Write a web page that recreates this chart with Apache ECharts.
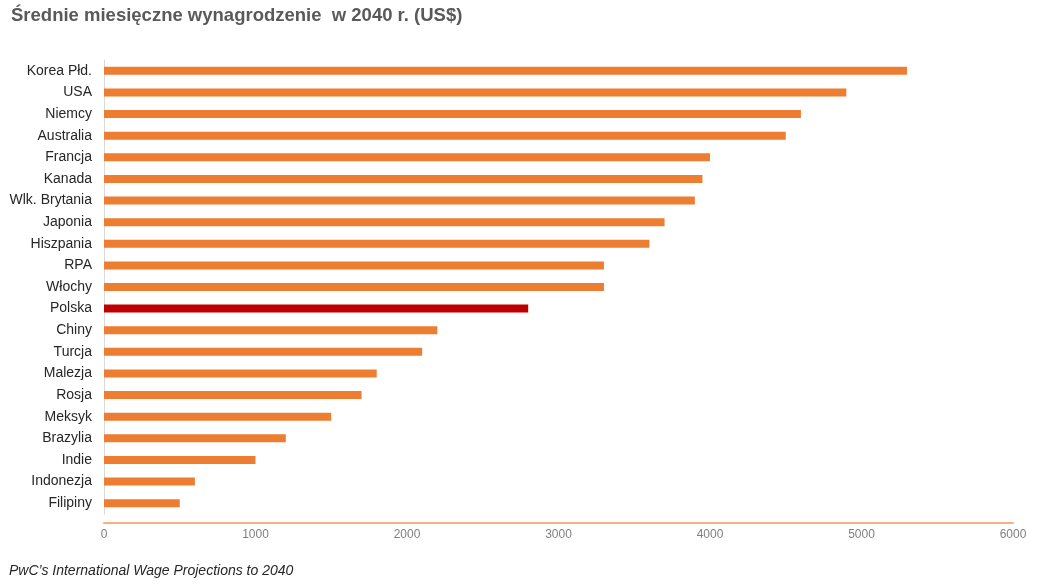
<!DOCTYPE html>
<html><head><meta charset="utf-8">
<script src="https://cdn.jsdelivr.net/npm/echarts@6/dist/echarts.min.js"></script>
<style>html,body{margin:0;padding:0;background:#fff}#c{width:1039px;height:585px}</style>
</head><body><div id="c"></div>
<script>
const categories = ["Korea Płd.","USA","Niemcy","Australia","Francja","Kanada","Wlk. Brytania","Japonia","Hiszpania","RPA","Włochy","Polska","Chiny","Turcja","Malezja","Rosja","Meksyk","Brazylia","Indie","Indonezja","Filipiny"];
const wages = [5300,4900,4600,4500,4000,3950,3900,3700,3600,3300,3300,2800,2200,2100,1800,1700,1500,1200,1000,600,500];
const highlight = "Polska";
const xTicks = [0,1000,2000,3000,4000,5000,6000];

const chart = echarts.init(document.getElementById('c'));
chart.setOption({
  animation: false,
  title: [{
    text: "Średnie miesięczne wynagrodzenie  w 2040 r. (US$)",
    left: 6, top: 1,
    textStyle: {fontFamily: "Liberation Sans", fontSize: 18.5, fontWeight: "bold", color: "#595959"}
  },{
    text: "PwC’s International Wage Projections to 2040",
    left: 4, top: 559,
    textStyle: {fontFamily: "Liberation Sans", fontSize: 14, fontStyle: "italic", fontWeight: "normal", color: "#262626"}
  }],
  grid: {left: 104, right: 26, top: 60, bottom: 71, containLabel: false},
  xAxis: {
    type: "value", min: xTicks[0], max: xTicks[xTicks.length-1], interval: 1000,
    offset: 9,
    axisLine: {show: true, lineStyle: {color: "#F4B183", width: 2}},
    axisTick: {show: false},
    splitLine: {show: false},
    axisLabel: {color: "#7f7f7f", fontSize: 12, fontFamily: "Liberation Sans", margin: 6, formatter: v => String(v)}
  },
  yAxis: {
    type: "category", data: categories, inverse: true,
    axisLine: {show: true, lineStyle: {color: "#d9d9d9", width: 1}},
    axisTick: {show: false},
    axisLabel: {color: "#262626", fontSize: 14, fontFamily: "Liberation Sans", margin: 12}
  },
  series: [{
    type: "bar",
    data: wages.map((v, i) => ({value: v, itemStyle: {color: categories[i] === highlight ? "#C00000" : "#ED7D31"}})),
    barWidth: 8
  }]
});
</script></body></html>
